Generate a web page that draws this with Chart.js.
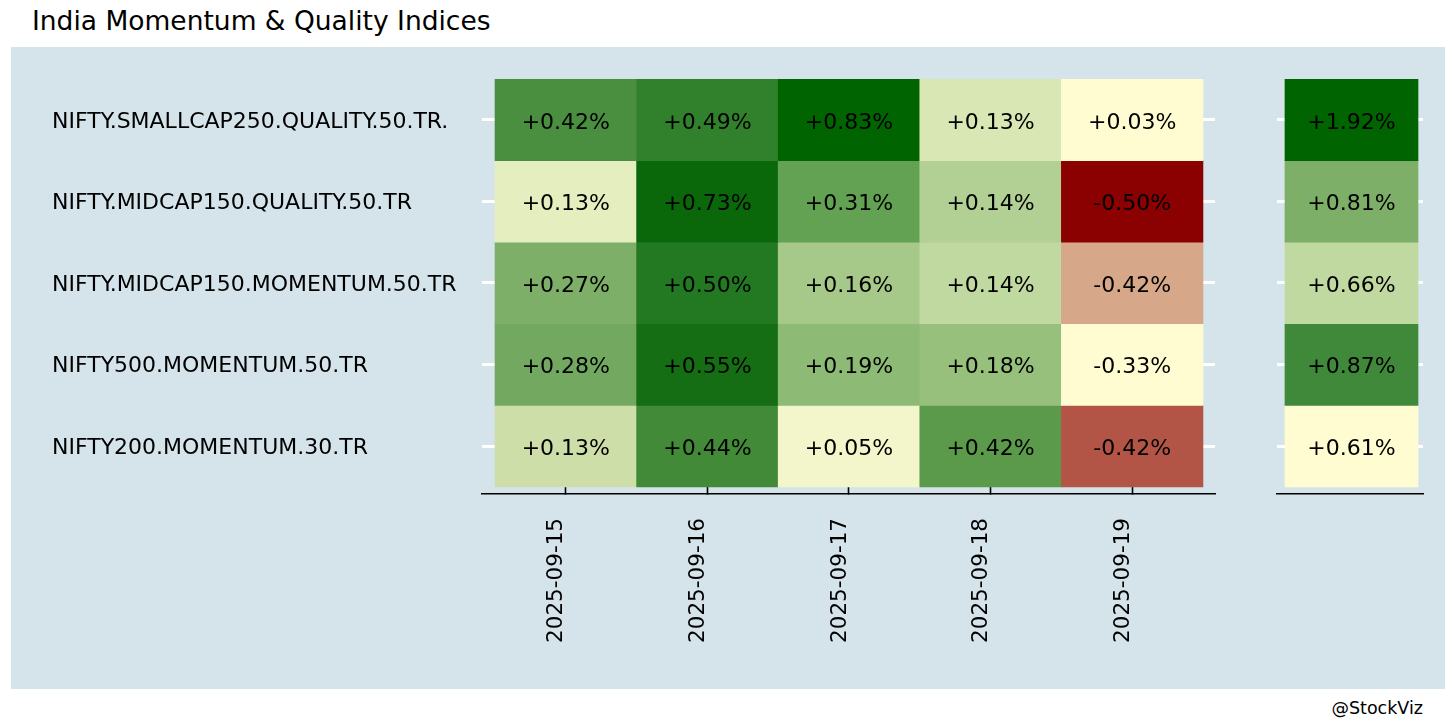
<!DOCTYPE html>
<html>
<head>
<meta charset="utf-8">
<script src="https://cdn.jsdelivr.net/npm/chart.js@4.4.1/dist/chart.umd.min.js"></script>
<style>
  body { margin: 0; width: 1456px; height: 728px; background: #fff; position: relative; overflow: hidden; font-family: "DejaVu Sans"; }
  #panel { position: absolute; left: 11px; top: 47px; width: 1434px; height: 642px; background: #d5e4eb; }
  #title { position: absolute; left: 32px; top: 8px; font-size: 26.5px; line-height: 26px; color: #000; }
  #credit { position: absolute; right: 33px; top: 700px; font-size: 17.5px; line-height: 17px; color: #000; }
  #main { position: absolute; left: 0; top: 0; }
  #total { position: absolute; left: 1240px; top: 0; }
</style>
</head>
<body>
<div id="panel"></div>
<div id="title">India Momentum &amp; Quality Indices</div>
<div id="credit">@StockViz</div>
<canvas id="main" width="1240" height="728"></canvas>
<canvas id="total" width="216" height="728"></canvas>
<script>
// Indeks (baris) dan tanggal (kolom)
const indexNames = [
    'NIFTY.SMALLCAP250.QUALITY.50.TR.',
    'NIFTY.MIDCAP150.QUALITY.50.TR',
    'NIFTY.MIDCAP150.MOMENTUM.50.TR',
    'NIFTY500.MOMENTUM.50.TR',
    'NIFTY200.MOMENTUM.30.TR'
];
const dates = ['2025-09-15', '2025-09-16', '2025-09-17', '2025-09-18', '2025-09-19'];

// Return harian per indeks (%)
const smallcap250Quality = [0.42, 0.49, 0.83, 0.13, 0.03];
const midcap150Quality = [0.13, 0.73, 0.31, 0.14, -0.50];
const midcap150Momentum = [0.27, 0.50, 0.16, 0.14, -0.42];
const nifty500Momentum = [0.28, 0.55, 0.19, 0.18, -0.33];
const nifty200Momentum = [0.13, 0.44, 0.05, 0.42, -0.42];
const rowReturns = [smallcap250Quality, midcap150Quality, midcap150Momentum, nifty500Momentum, nifty200Momentum];

// Total mingguan (%)
const weekTotals = [1.92, 0.81, 0.66, 0.87, 0.61];

// Warna sel
const cellColors = [
    ['#4a8f3f', '#31802b', '#006400', '#d8e7b4', '#fffcd2'],
    ['#e5eebe', '#0a680a', '#63a253', '#b2cf94', '#8b0000'],
    ['#7daf68', '#237922', '#a6c98a', '#c0d9a0', '#d7a78a'],
    ['#72a860', '#166e14', '#8dba74', '#98c07d', '#fffcd2'],
    ['#cedea8', '#428a37', '#f3f6cb', '#5a9a4a', '#b35546']
];
const totalColors = ['#006400', '#7daf68', '#c0d9a0', '#41893a', '#fffcd2'];

Chart.defaults.font.family = '"DejaVu Sans"';
Chart.defaults.font.size = 22;
Chart.defaults.color = '#000';

function formatPct(v) {
    return (v >= 0 ? '+' : '') + v.toFixed(2) + '%';
}

// Plugin untuk menulis nilai di tengah tiap sel
const cellLabels = {
    id: 'cellLabels',
    afterDatasetsDraw(chart) {
        const ctx = chart.ctx;
        ctx.save();
        ctx.font = '22px "DejaVu Sans"';
        ctx.fillStyle = '#000';
        ctx.textAlign = 'center';
        ctx.textBaseline = 'middle';
        chart.data.datasets.forEach((ds, i) => {
            chart.getDatasetMeta(i).data.forEach((bar, j) => {
                const p = bar.getCenterPoint();
                ctx.fillText(formatPct(ds.data[j].v), p.x, p.y + 3);
            });
        });
        ctx.restore();
    }
};

function rowAxis(position, showLabels, width) {
    return {
        type: 'linear',
        position: position,
        reverse: true,
        min: 0,
        max: 5.086,
        afterBuildTicks: scale => {
            scale.ticks = indexNames.map((n, i) => ({ value: i + 0.5 }));
        },
        ticks: {
            display: showLabels,
            crossAlign: 'far',
            labelOffset: 2,
            callback: (value, index) => indexNames[index]
        },
        grid: { drawOnChartArea: false, tickLength: -20, tickColor: '#fff', tickWidth: 3 },
        border: { display: false },
        afterFit: scale => { scale.width = width; }
    };
}

// Heatmap harian
const mainChart = new Chart(document.getElementById('main').getContext('2d'), {
    type: 'bar',
    data: {
        datasets: indexNames.map((name, r) => ({
            label: name,
            data: dates.map((d, c) => ({ x: c + 0.5, y: [r, r + 1], v: rowReturns[r][c] })),
            backgroundColor: cellColors[r],
            borderWidth: 0,
            barPercentage: 1,
            categoryPercentage: 1
        }))
    },
    options: {
        responsive: false,
        animation: false,
        devicePixelRatio: 1,
        layout: { padding: { left: 52, right: 25, top: 79, bottom: 0 } },
        plugins: { legend: { display: false }, tooltip: { enabled: false } },
        scales: {
            x: {
                type: 'linear',
                offset: false,
                stacked: true,
                min: -0.092,
                max: 5.085,
                afterBuildTicks: scale => {
                    scale.ticks = dates.map((d, i) => ({ value: i + 0.5 }));
                },
                ticks: {
                    autoSkip: false,
                    minRotation: 90,
                    maxRotation: 90,
                    padding: 31,
                    labelOffset: -9,
                    font: { size: 21.5 },
                    callback: (value, index) => dates[index]
                },
                grid: { offset: false, drawOnChartArea: false, tickLength: -7, tickColor: '#000', tickWidth: 1.6 },
                border: { color: '#000', width: 1.6 },
                afterFit: scale => { scale.height = 234; }
            },
            y: rowAxis('left', true, 430),
            yRight: rowAxis('right', false, 0)
        }
    },
    plugins: [cellLabels]
});

// Kolom total
const totalChart = new Chart(document.getElementById('total').getContext('2d'), {
    type: 'bar',
    data: {
        datasets: indexNames.map((name, r) => ({
            label: name,
            data: [{ x: 0.5, y: [r, r + 1], v: weekTotals[r] }],
            backgroundColor: totalColors[r],
            borderWidth: 0,
            barPercentage: 1,
            categoryPercentage: 1
        }))
    },
    options: {
        responsive: false,
        animation: false,
        devicePixelRatio: 1,
        layout: { padding: { left: 37, right: 33, top: 79, bottom: 0 } },
        plugins: { legend: { display: false }, tooltip: { enabled: false } },
        scales: {
            x: {
                type: 'linear',
                offset: false,
                stacked: true,
                min: -0.06,
                max: 1.0376,
                afterBuildTicks: scale => {
                    scale.ticks = [{ value: 0 }, { value: 1 }];
                },
                ticks: { display: false },
                grid: { offset: false, drawOnChartArea: false, drawTicks: false },
                border: { color: '#000', width: 1.6 },
                afterFit: scale => { scale.height = 234; }
            },
            y: rowAxis('left', false, 0),
            yRight: rowAxis('right', false, 0)
        }
    },
    plugins: [cellLabels]
});
</script>
</body>
</html>
